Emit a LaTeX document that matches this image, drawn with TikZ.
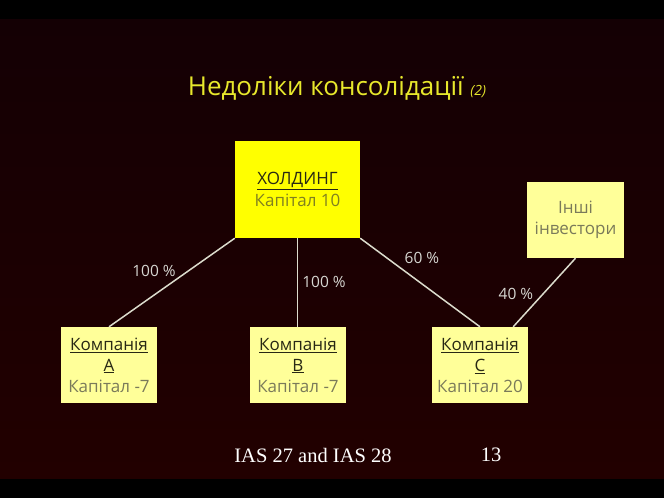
\documentclass[tikz,border=0pt]{standalone}
\usepackage{fontspec}
\setmainfont{Open Sans}
\newfontfamily\footfont{Liberation Serif}
\definecolor{bgtop}{RGB}{20,0,4}
\definecolor{bgbot}{RGB}{34,0,0}
\definecolor{titleyellow}{RGB}{232,232,44}
\definecolor{holdfill}{RGB}{255,255,0}
\definecolor{lightfill}{RGB}{255,255,153}
\definecolor{darktxt}{RGB}{40,40,20}
\definecolor{holdcap}{RGB}{128,128,32}
\definecolor{capgray}{RGB}{122,122,90}
\definecolor{linecol}{RGB}{220,220,205}
\definecolor{labcol}{RGB}{215,215,210}
\tikzset{
  box/.style={rectangle, draw=none, inner sep=0pt, align=center, font=\fontsize{17}{21}\selectfont},
  holdbox/.style={box, fill=holdfill, minimum width=125pt, minimum height=97pt, font=\fontsize{17}{22}\selectfont},
  compbox/.style={box, fill=lightfill, minimum width=96pt, minimum height=76pt},
  conn/.style={draw=linecol, line width=1.5pt},
  pct/.style={text=labcol, font=\fontsize{15.5}{17}\selectfont, inner sep=0pt},
}
\begin{document}
\begin{tikzpicture}[x=1pt,y=-1pt]
\useasboundingbox (0,0) rectangle (664,498);
\fill[black] (0,0) rectangle (664,498);
\shade[top color=bgtop, bottom color=bgbot] (0,19) rectangle (664,478);
\node[text=titleyellow, font=\fontsize{26}{30}\selectfont, inner sep=0pt] (title) at (337,88) {Недоліки консолідації \textit{\fontsize{14}{16}\selectfont (2)}};
\node[holdbox] (hold) at (297.5,189.5) {{\color{darktxt}\underline{ХОЛДИНГ}}\\{\color{holdcap}Капітал 10}};
\node[compbox, minimum width=97pt] (inv) at (575.5,220) {{\color{capgray}Інші}\\{\color{capgray}інвестори}};
\node[compbox] (A) at (109,365) {{\color{darktxt}\underline{Компанія}}\\{\color{darktxt}\underline{A}}\\{\color{capgray}Капітал -7}};
\node[compbox] (B) at (298,365) {{\color{darktxt}\underline{Компанія}}\\{\color{darktxt}\underline{B}}\\{\color{capgray}Капітал -7}};
\node[compbox] (C) at (480,365) {{\color{darktxt}\underline{Компанія}}\\{\color{darktxt}\underline{C}}\\{\color{capgray}Капітал 20}};
\coordinate (cin) at ([xshift=-15pt]C.north east);
\draw[conn] (hold.south west) -- (A.north);
\draw[conn] (hold.south) -- (hold.south |- B.north);
\draw[conn] (hold.south east) -- (C.north);
\draw[conn] (inv.south) -- (cin);
\node[pct] (l1) at (154,271) {100 \%};
\node[pct] (l2) at (324,282) {100 \%};
\node[pct] (l3) at (422,258) {60 \%};
\node[pct] (l4) at (516,294) {40 \%};
\node[text=white, font=\footfont\fontsize{20.5}{24}\selectfont, inner sep=0pt] (foot) at (313,455) {IAS 27 and IAS 28};
\node[text=white, font=\footfont\fontsize{20.5}{24}\selectfont, inner sep=0pt] (page) at (491,455) {13};
\end{tikzpicture}
\end{document}
